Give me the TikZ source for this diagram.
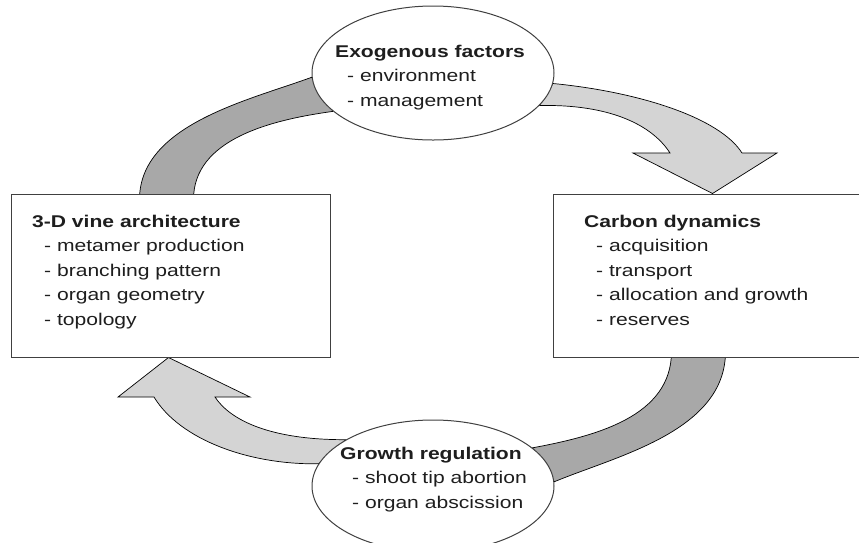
\documentclass[tikz,border=0pt]{standalone}
\usepackage{fontspec}
\setmainfont{Liberation Sans}[FakeStretch=1.24]
\usetikzlibrary{calc,shapes.geometric}
\pgfdeclarelayer{background}
\pgfsetlayers{background,main}
\definecolor{flowdark}{HTML}{A8A8A8}
\definecolor{flowlight}{HTML}{D4D4D4}
\definecolor{ink}{HTML}{1E1E1E}
\tikzset{
  stage/.style={draw=black!75, line width=1pt, fill=white},
  oval/.style={stage, ellipse, inner sep=0pt},
  panel/.style={stage, rectangle, inner sep=0pt},
  listing/.style={align=left, inner sep=0pt, anchor=north west, text=ink,
    font=\fontsize{17}{24.5}\selectfont},
  darkband/.style={fill=flowdark, draw=black, line width=0.7pt, line join=round},
  lightband/.style={fill=flowlight, draw=black, line width=0.7pt, line join=miter},
}
\newcommand{\itemline}[1]{\hspace*{12pt}- #1}
\begin{document}
\begin{tikzpicture}[x=1pt,y=-1pt]
\useasboundingbox (0,0) rectangle (859,542);

% the four stages of the cycle
\node[oval, minimum width=242pt, minimum height=134pt] (exo) at (433,73) {};
\node[oval, minimum width=242pt, minimum height=132pt] (reg) at (433,486) {};
\node[panel, minimum width=319pt, minimum height=163pt] (vine) at (170.5,275.5) {};
\node[panel, minimum width=327pt, minimum height=163pt] (carbon) at (716.5,275.5) {};

% their texts
\node[listing] (exotext) at (335,44.5)
  {\textbf{Exogenous factors}\\ \itemline{environment}\\ \itemline{management}};
\node[listing] (regtext) at (340,446.5)
  {\textbf{Growth regulation}\\ \itemline{shoot tip abortion}\\ \itemline{organ abscission}};
\node[listing] (vinetext) at (32,214.5)
  {\textbf{3-D vine architecture}\\ \itemline{metamer production}\\ \itemline{branching pattern}\\
   \itemline{organ geometry}\\ \itemline{topology}};
\node[listing] (carbontext) at (584,214.5)
  {\textbf{Carbon dynamics}\\ \itemline{acquisition}\\ \itemline{transport}\\
   \itemline{allocation and growth}\\ \itemline{reserves}};

% curved block arrows behind the stages
\begin{pgfonlayer}{background}
  % architecture -> exogenous factors
  \draw[darkband] ($(vine.north west)+(129,6)$)
    .. controls ($(vine.north west)+(129,-69)$) and (250,100) .. (exo.182)
    -- (exo.201)
    .. controls (270,120) and ($(vine.north west)+(183,-54)$) .. ($(vine.north west)+(183,6)$)
    -- cycle;
  % exogenous factors -> carbon dynamics
  \draw[lightband] (exo.355)
    .. controls (640,92) and (720,118) .. (742,153)
    -- (777,153) -- ($(carbon.north west)+(160,0)$) -- (633,153) -- (670,153)
    .. controls (652,125) and (610,104) .. (exo.343)
    -- cycle;
  % carbon dynamics -> growth regulation
  \draw[darkband] ($(carbon.south west)+(119,-6)$)
    .. controls ($(carbon.south west)+(119,59)$) and (596,436) .. (reg.21)
    -- (reg.2)
    .. controls (616,456) and ($(carbon.south west)+(173,74)$) .. ($(carbon.south west)+(173,-6)$)
    -- cycle;
  % growth regulation -> architecture
  \draw[lightband] (reg.169)
    .. controls (250,465) and (180,440) .. (154,397)
    -- (118,397) -- ($(vine.south west)+(158,0)$) -- (250,397) -- (215,397)
    .. controls (230,420) and (270,440) .. (reg.152)
    -- cycle;
\end{pgfonlayer}
\end{tikzpicture}
\end{document}
